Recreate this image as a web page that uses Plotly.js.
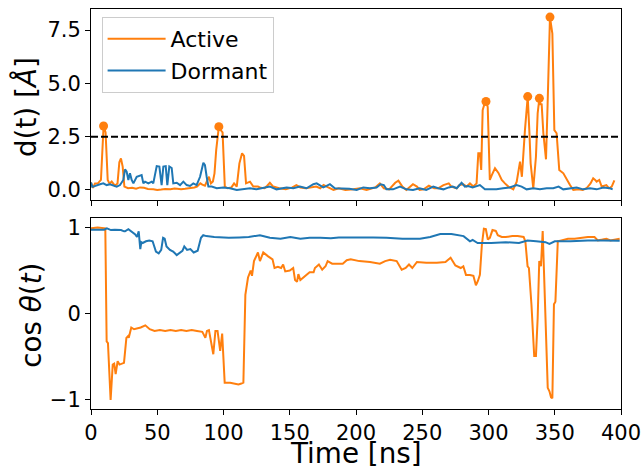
<!DOCTYPE html>
<html>
<head>
<meta charset="utf-8">
<script src="https://cdn.plot.ly/plotly-3.0.1.min.js"></script>
<style>html,body{margin:0;padding:0;background:#fff;}#chart{width:643px;height:471px;}</style>
</head>
<body>
<div id="chart"></div>
<script>
// ---- Top panel: d(t) [Å] ----
const activeDT = [0,1.5,3,5,7.5,8.8,9.5,11,12.6,14,15.6,18,20,21.4,22.6,23.9,25.2,28,31,34,37,40,43,47,50,53,56,60,63,65,68,71,75,78,80,82.5,84,86,89,90.5,92,93.2,94.5,96.5,98,99.3,101,103,106,108,110,112,114,115.5,117,120,122.5,126,128,131,133,135,137.5,142,147,152,155,158,162,166,170,173,175.5,179,183,187,192,198,203,208,214.5,218,221,225,229.6,232,235,238,243,246,248,251,255,259,262,266,270,272,276,278,281,283.5,286,288.5,291,292.3,293.5,294.5,295.6,296.8,298.1,299.4,301,302.5,304.9,307.5,310,312.4,315,318.7,321.3,323.8,325.2,327.5,329.6,330.8,331.8,333.8,335.8,337.1,338.4,339.3,340.1,341.4,343.4,344.6,346.4,348.2,349.7,351.4,353.4,356.5,359,361.5,364,368,371,374,377,379,380.5,381.6,383.6,385.4,389,391,393,395];
const activeD  = [0.35,0.1,0.3,0.3,0.47,2.7,3.0,2.7,0.47,0.3,0.4,0.2,0.3,1.3,1.48,1.1,0.16,0.08,0.1,0.06,0.12,0.1,0.05,0.03,0.0,0.02,0.05,0.03,0.07,0.06,0.04,0.06,0.08,0.12,0.16,0.31,0.25,0.2,0.62,0.31,0.4,0.78,1.88,2.97,2.8,2.7,0.16,0.08,0.12,0.31,0.16,1.25,1.72,1.6,0.31,0.39,0.16,0.16,0.1,0.08,0.2,0.34,0.16,0.08,0.03,0.12,0.23,0.12,0.08,0.12,0.16,0.08,0.23,0.12,0.0,0.08,0.0,0.03,0.08,0.0,0.12,0.31,0.08,0.03,0.34,0.44,0.16,0.0,0.27,0.16,0.0,0.03,0.2,0.08,0.08,0.23,0.31,0.16,0.08,0.23,0.27,0.16,0.31,0.16,0.31,1.72,1.72,0.94,3.75,4.0,4.15,3.9,0.47,0.7,1.02,0.8,0.47,0.31,0.16,0.03,0.39,1.33,0.62,2.81,4.38,2.81,1.25,0.08,1.56,3.6,4.3,4.0,4.05,2.66,1.44,4.0,8.11,7.34,2.81,2.66,0.94,0.78,0.47,0.23,0.0,0.03,0.0,0.08,0.31,0.55,0.47,0.39,0.47,0.16,0.23,0.08,0.16,0.45];

const dormantDT = [0,1,1.8,4.3,6.8,9.3,11.8,14.3,16.9,19.4,21.9,24.4,25.7,26.9,28.2,29.4,30.7,32,34.5,37,38.2,39.5,40.8,43.3,45.8,47,48.3,49.6,51.6,53.3,54.6,56.4,57.6,59.1,60.9,62.1,64.7,67.2,69.7,72.2,74.7,77.2,79.7,82.3,84.8,86,87.3,88.6,91.1,94.9,99.9,104.9,110,115,120,125,130,135,140,143,147.6,152.7,157.7,162.7,167.8,170.3,172.8,175.3,177.8,180.3,184,190,195,200.5,205.5,210.5,215.5,218.6,221,223,228,233.2,238,243,248,253,258.3,262,266,270,273,276,279.7,282.2,284.7,288,293.5,297.3,301,306,311,316,321.2,325,328.8,333.8,338.8,343.9,348.9,352.9,356.4,361.5,366.5,371.5,376.6,381.6,386.6,391.7,393.7];
const dormantD  = [0.35,0.15,0.16,0.23,0.27,0.31,0.23,0.27,0.23,0.16,0.23,0.47,0.97,0.86,0.47,0.78,0.47,0.31,0.62,0.7,0.7,0.31,0.39,0.31,0.39,0.31,0.78,1.12,1.1,0.23,1.1,1.12,0.23,1.1,1.03,0.31,0.34,0.23,0.39,0.23,0.19,0.31,0.23,0.62,1.28,1.17,0.62,0.16,0.16,0.08,0.12,0.08,0.0,0.03,0.08,0.03,0.08,0.16,0.03,0.08,0.12,0.08,0.16,0.08,0.27,0.31,0.23,0.12,0.19,0.27,0.08,0.08,0.06,0.0,0.12,0.08,0.12,0.27,0.23,0.03,0.03,0.16,0.03,0.0,0.08,0.0,0.16,0.08,0.03,0.12,0.16,0.08,0.34,0.16,0.19,0.12,0.23,0.03,0.03,0.03,0.08,0.12,0.23,0.16,0.03,0.08,0.03,0.08,0.08,0.16,0.03,0.08,0.12,0.03,0.08,0.03,0.12,0.08,0.03];

const peakT = [9.5,96.5,298.1,329.6,338.4,346.4];
const peakD = [3.0,2.97,4.15,4.38,4.3,8.11];
const threshold = 2.5;

// ---- Bottom panel: cos θ(t) ----
const activeCT = [0,5,10.8,11.8,12.8,14.8,16.4,17.5,18.6,20.1,21.5,23,24.9,26.7,28,28.5,30.4,32.5,35,37.5,41,44.3,48,52,56,60,64,68,72,76,80,84,85,86.3,87.5,89,92.3,93.9,95.5,97.5,99,100.9,105,108,111.3,113.5,115,116.5,118.5,120.5,121.5,123,125,126,127.5,130,133.7,137,138.5,141,143.5,145,146.6,150,152.6,154,155.5,156.5,158,162,165,168,169,172,174.5,177,178.6,182,190,193,196,202.5,210.6,218,222,225.7,230.7,234.5,237.5,240,242.5,246,253,261,267.5,271.4,275,279,281,283,286,288.6,290.5,292,293.5,295,296.5,298,299.5,301,303,305.5,307,310,313,318,322,326.5,327.8,329.5,330.5,332.4,333.2,334.5,335.8,337.1,338.3,339.6,340.9,342.2,343.5,344.7,346,347.2,348.2,349.4,350.5,352.3,355,360,365,370,375,380,382.5,386,389,392,395,399];
const activeC  = [0.99,1.0,0.99,-0.32,-0.34,-1.0,-0.59,-0.58,-0.70,-0.55,-0.59,-0.58,-0.57,-0.28,-0.26,-0.28,-0.16,-0.18,-0.17,-0.16,-0.135,-0.18,-0.2,-0.19,-0.2,-0.19,-0.2,-0.19,-0.2,-0.19,-0.2,-0.21,-0.24,-0.28,-0.2,-0.19,-0.47,-0.2,-0.2,-0.43,-0.23,-0.80,-0.80,-0.81,-0.82,-0.81,-0.80,0.22,0.42,0.50,0.44,0.61,0.69,0.71,0.61,0.71,0.665,0.63,0.53,0.545,0.53,0.57,0.49,0.50,0.53,0.39,0.37,0.46,0.39,0.44,0.48,0.48,0.53,0.57,0.51,0.55,0.61,0.58,0.58,0.62,0.63,0.61,0.60,0.58,0.61,0.625,0.61,0.51,0.53,0.57,0.53,0.60,0.59,0.59,0.60,0.65,0.56,0.53,0.55,0.45,0.45,0.44,0.33,0.38,0.45,0.80,0.985,0.98,0.86,0.88,0.97,0.96,0.91,0.89,0.89,0.90,0.90,0.89,0.84,0.55,0.53,0.11,-0.20,-0.49,-0.49,-0.05,0.61,0.55,0.96,0.26,-0.34,-0.86,-0.9,-0.97,-0.98,0.11,0.14,0.84,0.85,0.87,0.87,0.88,0.89,0.89,0.85,0.86,0.87,0.85,0.86,0.87];

const dormantCT = [0,5,10,12,15,18,22.6,25,25.7,28.2,31,33.4,34.7,36,37.2,38,39,41.5,44,46.5,49,51.1,53,54.4,55.6,57,59.6,62,64.7,67,69,70.4,72.5,75,77.5,80.5,83,84.7,87,93,100,104,112,119,127.5,135,143,150.5,158,165,173,181,187,194,204.5,213,223,235,248.3,256,263.6,272,281.2,286,288,291.8,302,313,323,329.4,336,343,346,350,362,375,387,399];
const dormantC  = [0.975,0.975,0.975,0.99,0.97,0.975,0.97,0.955,0.955,0.98,0.95,0.92,0.89,0.955,0.75,0.83,0.82,0.84,0.85,0.84,0.72,0.70,0.74,0.88,0.87,0.78,0.74,0.72,0.68,0.71,0.73,0.78,0.74,0.75,0.71,0.73,0.88,0.91,0.90,0.89,0.885,0.88,0.885,0.89,0.91,0.88,0.87,0.89,0.87,0.88,0.88,0.875,0.885,0.885,0.89,0.885,0.88,0.87,0.87,0.89,0.925,0.925,0.90,0.84,0.855,0.82,0.82,0.83,0.82,0.85,0.84,0.83,0.81,0.84,0.84,0.85,0.85,0.845];

const xTicks = [0,50,100,150,200,250,300,350,400];
const dTicks = [0,2.5,5,7.5];
const dTickText = ['0.0','2.5','5.0','7.5'];
const cTicks = [-1,0,1];
const cTickText = ['\u22121','0','1'];

const ORANGE = '#ff7f0e', BLUE = '#1f77b4';
const FONT = 'DejaVu Sans';
const TITLE_FONT = {family:FONT, size:27.8, color:'#000'};

const traces = [
  {x: activeDT, y: activeD, type:'scatter', mode:'lines', name:'Active', line:{color:ORANGE, width:2}, xaxis:'x', yaxis:'y'},
  {x: dormantDT, y: dormantD, type:'scatter', mode:'lines', name:'Dormant', line:{color:BLUE, width:2}, xaxis:'x', yaxis:'y'},
  {x: peakT, y: peakD, type:'scatter', mode:'markers', showlegend:false, marker:{color:ORANGE, size:9}, xaxis:'x', yaxis:'y'},
  {x: activeCT, y: activeC, type:'scatter', mode:'lines', showlegend:false, line:{color:ORANGE, width:2}, xaxis:'x2', yaxis:'y2'},
  {x: dormantCT, y: dormantC, type:'scatter', mode:'lines', showlegend:false, line:{color:BLUE, width:2}, xaxis:'x2', yaxis:'y2'}
];

const axCommon = {showgrid:false, zeroline:false, showline:true, mirror:true, linecolor:'#000', linewidth:1,
  ticks:'outside', ticklen:5, tickwidth:1, tickcolor:'#000', tickfont:{family:FONT, size:21, color:'#000'}};

const layout = {
  width:643, height:471,
  margin:{l:91, r:22, t:9, b:62},
  paper_bgcolor:'#fff', plot_bgcolor:'#fff',
  font:{family:FONT, color:'#000'},
  showlegend:true,
  legend:{x:0.02, y:0.98, xanchor:'left', yanchor:'top', bgcolor:'rgba(255,255,255,0.8)', bordercolor:'#cccccc', borderwidth:1,
    itemwidth:58, font:{family:FONT, size:22, color:'#000'}},
  xaxis: Object.assign({}, axCommon, {domain:[0,1], range:[0,400], anchor:'y', tickvals:xTicks, showticklabels:false}),
  yaxis: Object.assign({}, axCommon, {domain:[0.5225,1], range:[-0.47,8.49], anchor:'x', tickvals:dTicks, ticktext:dTickText}),
  xaxis2: Object.assign({}, axCommon, {domain:[0,1], range:[0,400], anchor:'y2', tickvals:xTicks}),
  yaxis2: Object.assign({}, axCommon, {domain:[0,0.4775], range:[-1.105,1.11], anchor:'x2', tickvals:cTicks, ticktext:cTickText}),
  annotations:[
    {text:'d(t) [<i>Å</i>]', xref:'paper', yref:'paper', x:-0.1226, y:0.755, xanchor:'center', yanchor:'middle',
     textangle:-90, showarrow:false, font:TITLE_FONT},
    {text:'cos <i>θ</i>(<i>t</i>)', xref:'paper', yref:'paper', x:-0.1113, y:0.233, xanchor:'center', yanchor:'middle',
     textangle:-90, showarrow:false, font:TITLE_FONT},
    {text:'Time [ns]', xref:'paper', yref:'paper', x:0.5, y:-0.155, xanchor:'center', yanchor:'bottom',
     showarrow:false, font:TITLE_FONT, borderpad:0}
  ],
  shapes:[{type:'line', xref:'x domain', x0:0, x1:1, yref:'y', y0:threshold, y1:threshold, layer:'above',
    line:{color:'#000', width:2, dash:'7px,3px'}}]
};

Plotly.newPlot('chart', traces, layout, {displayModeBar:false, staticPlot:true});
</script>
</body>
</html>
